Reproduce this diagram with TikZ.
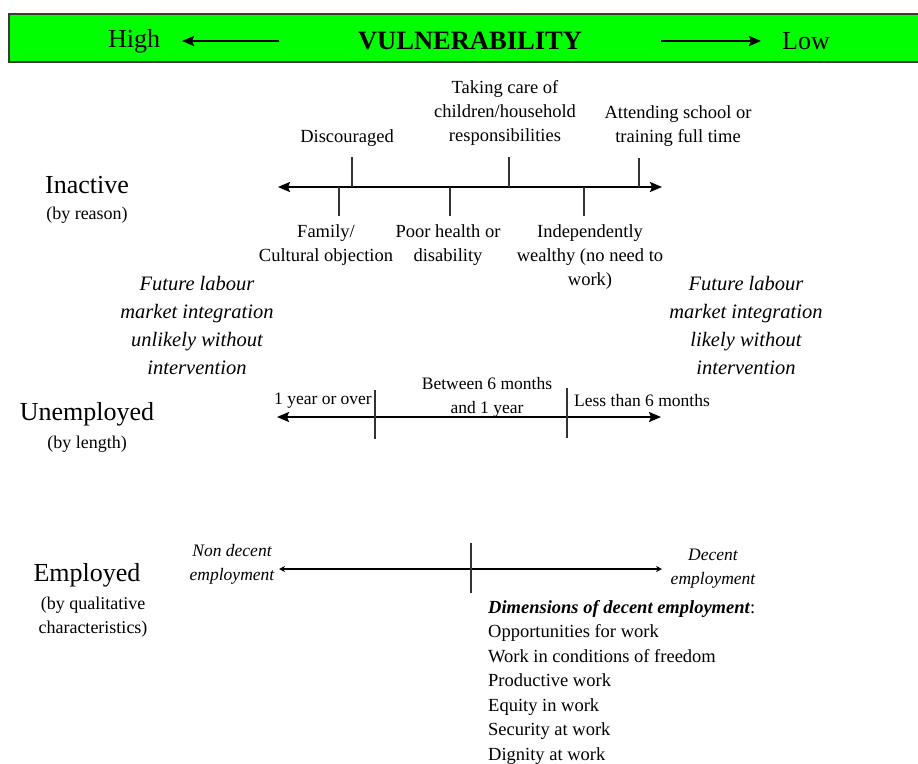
\documentclass[tikz,border=0pt]{standalone}
\usepackage{fontspec}
\setmainfont{Liberation Serif}
\usetikzlibrary{arrows.meta}
\definecolor{barg}{HTML}{00FF00}
\definecolor{barb}{HTML}{3A3A3A}
\begin{document}
\begin{tikzpicture}[x=1pt,y=-1pt,
  lbl/.style={align=center,inner sep=0pt,yshift=-2pt,font=\fontsize{18.5}{24}\selectfont},
  ulbl/.style={align=center,inner sep=0pt,yshift=-2pt,font=\fontsize{17.5}{24}\selectfont},
  big/.style={inner sep=0pt,font=\fontsize{26}{28}\selectfont},
  sub/.style={align=center,inner sep=0pt,yshift=-2pt,font=\fontsize{18}{24}\selectfont},
  future/.style={align=center,inner sep=0pt,font=\fontsize{20.5}{28}\selectfont\itshape},
  emp/.style={align=center,inner sep=0pt,yshift=-2pt,font=\fontsize{17.5}{24}\selectfont\itshape},
  axis/.style={line width=2pt,{Stealth[length=12pt,width=10pt,inset=2pt]}-{Stealth[length=12pt,width=10pt,inset=2pt]}},
  thinaxis/.style={line width=1.4pt,{Stealth[length=6pt,width=6pt]}-{Stealth[length=6pt,width=6pt]}},
  tick/.style={line width=1.5pt,black!80},
  bararrow/.style={line width=2pt,-{Stealth[length=12pt,width=10pt,inset=2pt]}}
]
\useasboundingbox (0,0) rectangle (918,763);
\fill[white] (0,0) rectangle (918,763);

% header bar
\draw[fill=barg,draw=barb,line width=2pt] (9,14) rectangle (925,62);
\node[big] (high) at (134,41) {High};
\node[inner sep=0pt,font=\fontsize{26.5}{28}\selectfont\bfseries] (vul) at (470,41) {VULNERABILITY};
\node[big] (low) at (806,41) {Low};
\coordinate (hs) at (279,41);
\coordinate (he) at (182,41);
\coordinate (ls) at (661,41);
\coordinate (le) at (761,41);
\draw[bararrow] (hs) -- (he);
\draw[bararrow] (ls) -- (le);

% left category labels
\node[big] (inact) at (87,185) {Inactive};
\node[sub] (inactsub) at (87,213) {(by reason)};
\node[big] (unemp) at (87,414) {Unemployed};
\node[sub] (unempsub) at (87,442) {(by length)};
\node[big] (empl) at (87,575) {Employed};
\node[sub] (emplsub) at (93,615) {(by qualitative\\characteristics)};

% Inactive axis
\coordinate (ia) at (278,187);
\coordinate (ib) at (662,187);
\draw[axis] (ia) -- (ib);
\coordinate (t1a) at (352,157); \coordinate (t1b) at (352,187);
\coordinate (t2a) at (509,157); \coordinate (t2b) at (509,187);
\coordinate (t3a) at (639,158); \coordinate (t3b) at (639,187);
\coordinate (b1a) at (339,187); \coordinate (b1b) at (339,216);
\coordinate (b2a) at (450,187); \coordinate (b2b) at (450,216);
\coordinate (b3a) at (584,187); \coordinate (b3b) at (584,216);
\foreach \p in {t1,t2,t3,b1,b2,b3} \draw[tick] (\p a) -- (\p b);
\node[lbl] (disc) at (347,136) {Discouraged};
\node[lbl] (care) at (505,111) {Taking care of\\children/household\\responsibilities};
\node[lbl] (school) at (678,124) {Attending school or\\training full time};
\node[lbl] (family) at (326,243) {Family/\\Cultural objection};
\node[lbl] (health) at (448,243) {Poor health or\\disability};
\node[lbl] (wealth) at (590,255) {Independently\\wealthy (no need to\\work)};

% future labour notes
\node[future] (unlikely) at (197,325) {Future labour\\market integration\\unlikely without\\intervention};
\node[future] (likely) at (746,325) {Future labour\\market integration\\likely without\\intervention};

% Unemployed axis
\coordinate (ua) at (277,417);
\coordinate (ub) at (661,417);
\draw[axis,line width=1.8pt] (ua) -- (ub);
\coordinate (u1a) at (375,390); \coordinate (u1b) at (375,439);
\coordinate (u2a) at (567,388); \coordinate (u2b) at (567,438);
\draw[tick,line width=1.3pt] (u1a) -- (u1b);
\draw[tick,line width=1.3pt] (u2a) -- (u2b);
\node[ulbl,anchor=east] (year) at (372,399) {1 year or over};
\node[ulbl] (between) at (487,395) {Between 6 months\\and 1 year};
\node[ulbl,anchor=west] (less) at (574,399) {Less than 6 months};

% Employed axis
\coordinate (ea) at (279,569);
\coordinate (eb) at (662,569);
\draw[thinaxis] (ea) -- (eb);
\coordinate (e1a) at (471,543); \coordinate (e1b) at (471,593);
\draw[tick,line width=1.3pt] (e1a) -- (e1b);
\node[emp] (nondec) at (232,562) {Non decent\\employment};
\node[emp] (decent) at (713,567) {Decent\\employment};
\node[align=left,anchor=north west,inner sep=0pt,font=\fontsize{18.5}{24.5}\selectfont] (dims) at (488,600)
 {\textbf{\textit{Dimensions of decent employment}}:\\
  Opportunities for work\\
  Work in conditions of freedom\\
  Productive work\\
  Equity in work\\
  Security at work\\
  Dignity at work};
\end{tikzpicture}
\end{document}
